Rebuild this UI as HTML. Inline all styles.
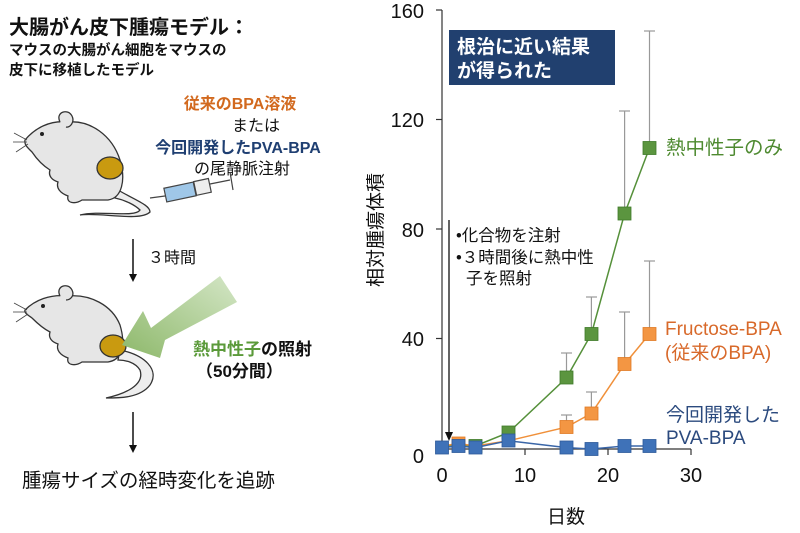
<!DOCTYPE html>
<html><head><meta charset="utf-8"><style>
html,body{margin:0;padding:0;background:#fff;}
svg{display:block;font-family:"Liberation Sans","Noto Sans CJK JP",sans-serif;}
</style></head><body>
<svg width="800" height="533" viewBox="0 0 800 533" xmlns="http://www.w3.org/2000/svg">
<!-- left text -->
<text x="9" y="34" font-size="20" font-weight="bold" fill="#111">大腸がん皮下腫瘍モデル：</text>
<text x="9" y="55" font-size="14.5" font-weight="bold" fill="#111">マウスの大腸がん細胞をマウスの</text>
<text x="9" y="75" font-size="14.5" font-weight="bold" fill="#111">皮下に移植したモデル</text>
<text x="240" y="109" font-size="16" font-weight="bold" fill="#d2691e" text-anchor="middle">従来のBPA溶液</text>
<text x="256" y="131" font-size="16" fill="#111" text-anchor="middle">または</text>
<text x="238" y="153" font-size="16" font-weight="bold" fill="#1f3f72" text-anchor="middle">今回開発したPVA-BPA</text>
<text x="242" y="174" font-size="16" fill="#111" text-anchor="middle">の尾静脈注射</text>

<!-- mouse 1 -->
<g stroke="#333" stroke-width="1.3" fill="#e6e6e6">
<path d="M118 190 C135 200 150 205 150 212 C140 222 100 212 80 215 C100 210 135 218 140 210 C135 205 125 200 115 198 Z" fill="#eee"/>
<path d="M25 140 C35 128 50 120 68 122 C90 120 112 135 120 160 C126 180 122 198 108 200 L82 200 C76 204 66 204 68 196 C60 193 56 188 58 182 C52 180 48 176 50 170 C42 165 36 158 32 152 C28 148 24 145 25 140 Z"/>
<path d="M60 122 C55 112 68 108 72 116 C75 122 70 128 66 127" />
</g>
<g stroke="#444" stroke-width="0.8"><line x1="27" y1="140" x2="14" y2="133"/><line x1="27" y1="142" x2="13" y2="142"/><line x1="28" y1="144" x2="16" y2="152"/></g>
<circle cx="42" cy="134" r="2" fill="#222"/>
<ellipse cx="110" cy="168" rx="13" ry="11" fill="#c99a10" stroke="#333" stroke-width="1.3"/>
<!-- syringe -->
<g stroke="#444" stroke-width="1.2">
<line x1="150" y1="198" x2="165" y2="196"/>
<rect x="165" y="185" width="30" height="14" fill="#9fc7e8" transform="rotate(-12 180 192)"/>
<rect x="195" y="180" width="15" height="14" fill="#eee" transform="rotate(-12 202 187)"/>
<line x1="210" y1="184" x2="230" y2="180"/>
<line x1="230" y1="172" x2="233" y2="190"/>
</g>
<!-- arrow 1 -->
<line x1="133" y1="239" x2="133" y2="275" stroke="#111" stroke-width="1.5"/>
<path d="M129 274 L137 274 L133 282 Z" fill="#111"/>
<text x="148" y="263" font-size="16" fill="#111">３時間</text>

<!-- mouse 2 -->
<g stroke="#333" stroke-width="1.3" fill="#e6e6e6">
<path d="M120 350 C145 355 160 370 150 385 C140 398 120 398 106 398 C125 394 145 385 140 370 C135 362 125 360 118 360 Z" fill="#eee"/>
<path d="M25 310 C35 300 50 294 68 296 C90 294 112 305 120 325 C126 345 122 360 108 362 L82 362 C76 366 66 366 68 358 C60 355 56 350 58 344 C52 342 48 338 50 332 C42 328 36 322 32 318 C28 315 24 313 25 310 Z"/>
<path d="M60 296 C55 286 68 282 72 290 C75 296 70 300 66 300" />
</g>
<g stroke="#444" stroke-width="0.8"><line x1="27" y1="310" x2="14" y2="303"/><line x1="27" y1="312" x2="13" y2="312"/><line x1="28" y1="314" x2="16" y2="322"/></g>
<circle cx="43" cy="306" r="2" fill="#222"/>
<ellipse cx="113" cy="346" rx="13" ry="11" fill="#c99a10" stroke="#333" stroke-width="1.3"/>
<!-- green arrow -->
<defs><linearGradient id="g" x1="1" y1="0" x2="0" y2="1"><stop offset="0" stop-color="#d4e6c6"/><stop offset="1" stop-color="#8db86a"/></linearGradient></defs>
<path d="M220 276 L237 302 L165 340 L160 358 L122 345 L143 311 L151 328 Z" fill="url(#g)"/>
<text x="193" y="355" font-size="17" font-weight="bold" fill="#111"><tspan fill="#5b9a3a">熱中性子</tspan>の照射</text>
<text x="196" y="377" font-size="17" font-weight="bold" fill="#111">（50分間）</text>
<line x1="133" y1="412" x2="133" y2="446" stroke="#111" stroke-width="1.5"/>
<path d="M129 445 L137 445 L133 453 Z" fill="#111"/>
<text x="22" y="487" font-size="19.5" fill="#111">腫瘍サイズの経時変化を追跡</text>

<!-- chart axes -->
<g stroke="#333" stroke-width="1.2">
<line x1="442" y1="10" x2="442" y2="449"/>
<line x1="442" y1="449" x2="691" y2="449"/>
<line x1="436" y1="10" x2="442" y2="10"/>
<line x1="436" y1="119.5" x2="442" y2="119.5"/>
<line x1="436" y1="229" x2="442" y2="229"/>
<line x1="436" y1="338.5" x2="442" y2="338.5"/>
<line x1="436" y1="449" x2="442" y2="449"/>
<line x1="525" y1="449" x2="525" y2="455"/>
<line x1="608" y1="449" x2="608" y2="455"/>
<line x1="691" y1="449" x2="691" y2="455"/>
</g>
<g font-size="20" fill="#111" text-anchor="end">
<text x="424" y="18">160</text><text x="424" y="127">120</text><text x="424" y="237">80</text><text x="424" y="346">40</text><text x="424" y="463">0</text>
</g>
<g font-size="20" fill="#111" text-anchor="middle">
<text x="442" y="482">0</text><text x="525" y="482">10</text><text x="608" y="482">20</text><text x="691" y="482">30</text>
</g>
<text x="566" y="523" font-size="19" fill="#111" text-anchor="middle">日数</text>
<text transform="translate(382 230) rotate(-90)" font-size="19" fill="#111" text-anchor="middle">相対腫瘍体積</text>

<rect x="449" y="30" width="166" height="55" fill="#21406f"/>
<text x="457" y="53" font-size="19" font-weight="bold" fill="#fff">根治に近い結果</text>
<text x="457" y="77" font-size="19" font-weight="bold" fill="#fff">が得られた</text>

<line x1="449" y1="220" x2="449" y2="434" stroke="#111" stroke-width="1.3"/>
<path d="M445 432 L453 432 L449 441 Z" fill="#111"/>
<text x="456" y="241" font-size="16.5" fill="#111">•化合物を注射</text>
<text x="456" y="263" font-size="16.5" fill="#111">•３時間後に熱中性</text>
<text x="466" y="284" font-size="16.5" fill="#111">子を照射</text>

<!-- error bars -->
<g stroke="#999" stroke-width="1.2">
<line x1="508.4" y1="432.6" x2="508.4" y2="429.8"/>
<line x1="566.5" y1="377.8" x2="566.5" y2="353"/><line x1="561" y1="353" x2="572" y2="353"/>
<line x1="591.4" y1="334" x2="591.4" y2="297"/><line x1="586" y1="297" x2="597" y2="297"/>
<line x1="624.6" y1="213.6" x2="624.6" y2="111"/><line x1="619" y1="111" x2="630" y2="111"/>
<line x1="649.5" y1="147.9" x2="649.5" y2="31"/><line x1="644" y1="31" x2="655" y2="31"/>
<line x1="566.5" y1="427" x2="566.5" y2="415"/><line x1="561" y1="415" x2="572" y2="415"/>
<line x1="591.4" y1="413" x2="591.4" y2="392"/><line x1="586" y1="392" x2="597" y2="392"/>
<line x1="624.6" y1="364" x2="624.6" y2="312"/><line x1="619" y1="312" x2="630" y2="312"/>
<line x1="649.5" y1="334" x2="649.5" y2="261"/><line x1="644" y1="261" x2="655" y2="261"/>
</g>
<!-- green -->
<polyline points="442,446 458.6,446 475.2,446 508.4,432.6 566.5,377.8 591.4,334 624.6,213.6 649.5,147.9" fill="none" stroke="#55903a" stroke-width="1.5"/>
<g fill="#5b953f" stroke="#3f7a2a" stroke-width="0.8">
<rect x="502" y="426" width="13" height="13"/><rect x="560" y="371" width="13" height="13"/><rect x="585" y="327.5" width="13" height="13"/><rect x="618" y="207" width="13" height="13"/><rect x="643" y="141.5" width="13" height="13"/>
<rect x="469" y="439.5" width="13" height="13"/>
</g>
<!-- orange -->
<polyline points="442,446 458.6,443.5 475.2,446 508.4,440.8 566.5,427.1 591.4,413.4 624.6,364.1 649.5,334" fill="none" stroke="#f0903a" stroke-width="1.5"/>
<g fill="#f39643" stroke="#e07a25" stroke-width="0.8">
<rect x="452" y="437" width="13" height="13"/><rect x="560" y="420.5" width="13" height="13"/><rect x="585" y="407" width="13" height="13"/><rect x="618" y="357.5" width="13" height="13"/><rect x="643" y="327.5" width="13" height="13"/>
</g>
<!-- blue -->
<polyline points="442,447.6 458.6,446 475.2,447.6 508.4,440.8 566.5,447.6 591.4,449 624.6,446 649.5,446" fill="none" stroke="#3a66a8" stroke-width="1.5"/>
<g fill="#3f72b8" stroke="#2d5a9a" stroke-width="0.8">
<rect x="435.5" y="441" width="13" height="13"/><rect x="452" y="439.5" width="13" height="13"/><rect x="469" y="441" width="13" height="13"/><rect x="502" y="434" width="13" height="13"/><rect x="560" y="441" width="13" height="13"/><rect x="585" y="442.5" width="13" height="13"/><rect x="618" y="439.5" width="13" height="13"/><rect x="643" y="439.5" width="13" height="13"/>
</g>
<text x="666" y="154" font-size="19.5" fill="#4e8a30">熱中性子のみ</text>
<text x="665" y="335" font-size="19" fill="#d8692a">Fructose-BPA</text>
<text x="665" y="359" font-size="19" fill="#d8692a">(従来のBPA)</text>
<text x="666" y="421" font-size="19" fill="#2b4a7e">今回開発した</text>
<text x="666" y="444" font-size="19" fill="#2b4a7e">PVA-BPA</text>
</svg>
</body></html>
